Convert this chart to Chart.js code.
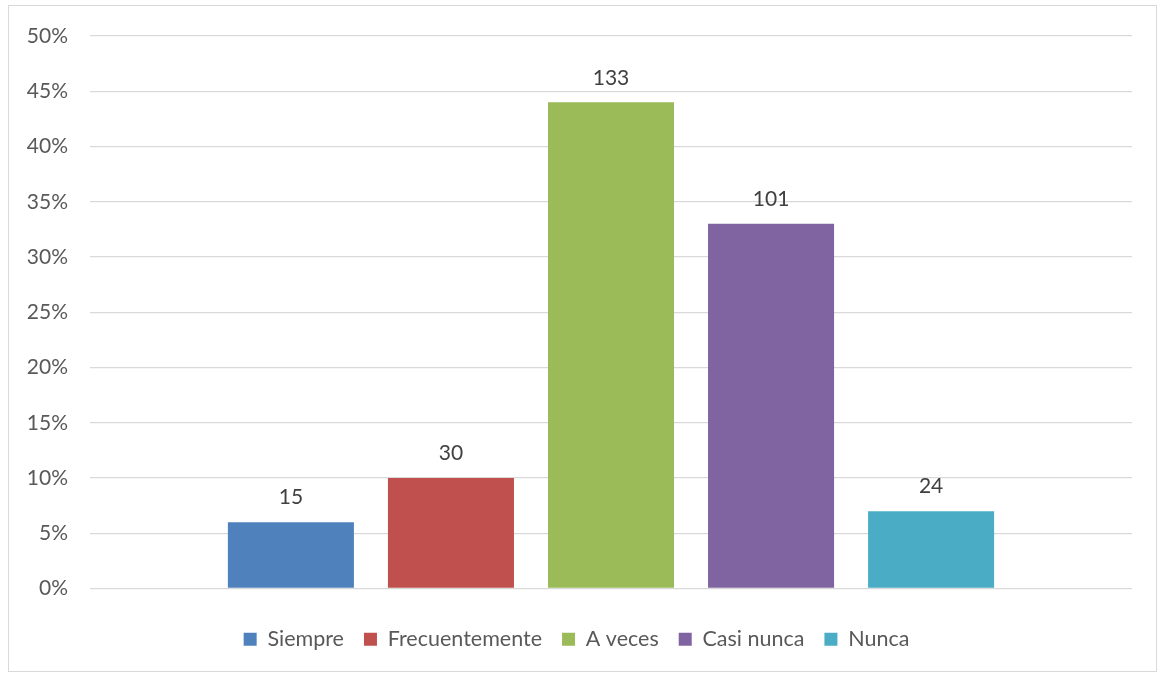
<!DOCTYPE html>
<html>
<head>
<meta charset="utf-8">
<script src="https://cdn.jsdelivr.net/npm/chart.js@4"></script>
<style>
  body { margin: 0; background: #fff; }
  #wrap { position: relative; width: 1160px; height: 673px; }
  #frame { position: absolute; left: 8px; top: 5px; width: 1149px; height: 667px; border: 1.5px solid #d9d9d9; pointer-events: none; box-sizing: border-box; }
</style>
</head>
<body>
<div id="wrap">
  <canvas id="chart" width="1160" height="673"></canvas>
  <div id="frame"></div>
</div>
<script>
// Answer options and values
const answers = ['Siempre', 'Frecuentemente', 'A veces', 'Casi nunca', 'Nunca'];
const percents = [6, 10, 44, 33, 7];   // bar height, % of answers
const counts = [15, 30, 133, 101, 24]; // number shown above each bar
const yTicks = [0, 5, 10, 15, 20, 25, 30, 35, 40, 45, 50];
const barColors = ['#4F81BD', '#C0504D', '#9BBB59', '#8064A2', '#4BACC6'];

const FONT = 'Lato, "Open Sans", sans-serif';

// Draw the count above each bar
const countLabels = {
  id: 'countLabels',
  afterDatasetsDraw(chart) {
    const ctx = chart.ctx;
    ctx.save();
    ctx.font = '21px ' + FONT;
    ctx.fillStyle = '#404040';
    ctx.textAlign = 'center';
    ctx.textBaseline = 'bottom';
    chart.data.datasets.forEach((ds, i) => {
      const bar = chart.getDatasetMeta(i).data[0];
      ctx.fillText(String(counts[i]), bar.x, bar.y - 14);
    });
    ctx.restore();
  }
};

const datasets = answers.map((name, i) => ({
  label: name,
  data: [percents[i]],
  backgroundColor: barColors[i],
  categoryPercentage: 0.768,
  barPercentage: 0.7875
}));

new Chart(document.getElementById('chart'), {
  type: 'bar',
  data: { labels: [''], datasets: datasets },
  options: {
    responsive: false,
    animation: false,
    layout: { padding: { left: 21, right: 28, top: 36, bottom: 13 } },
    scales: {
      x: {
        grid: { display: false },
        border: { display: false },
        ticks: { display: false },
        afterFit(scale) { scale.height = 20; }
      },
      y: {
        min: 0,
        max: 50,
        afterBuildTicks(scale) { scale.ticks = yTicks.map(v => ({ value: v })); },
        afterFit(scale) { scale.width = 69; },
        grid: { color: '#d9d9d9', lineWidth: 1.3, drawTicks: false },
        border: { display: false },
        ticks: {
          padding: 22,
          color: '#595959',
          font: { family: FONT, size: 21 },
          callback: v => v + '%'
        }
      }
    },
    plugins: {
      legend: {
        position: 'bottom',
        labels: {
          boxWidth: 13,
          boxHeight: 13,
          padding: 20,
          color: '#595959',
          font: { family: FONT, size: 21.5 }
        }
      },
      tooltip: { enabled: false }
    }
  },
  plugins: [countLabels]
});
</script>
</body>
</html>
